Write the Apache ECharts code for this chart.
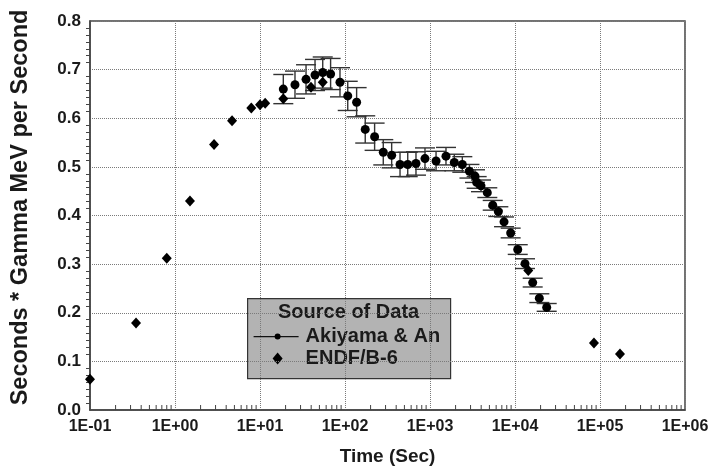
<!DOCTYPE html>
<html>
<head>
<meta charset="utf-8">
<script src="https://cdn.jsdelivr.net/npm/echarts@6/dist/echarts.min.js"></script>
<style>
  html, body { margin: 0; padding: 0; background: #fff; }
  #chart { width: 712px; height: 471px; }
</style>
</head>
<body>
<div id="chart"></div>
<script>
// Akiyama & An measurements: time (s), value, one-sigma uncertainty
const akiyamaTime = [18.8, 25.8, 34.8, 44.4, 54.7, 67.7, 87.3, 107.7, 137, 173, 223, 282, 354, 444, 547, 684, 873, 1178, 1542, 1932, 2400, 2911, 3384, 3540, 3981, 4722, 5470, 6368, 7430, 8892, 10770, 13120, 16150, 19330, 23600];
const akiyamaValue = [0.660, 0.669, 0.680, 0.689, 0.694, 0.691, 0.674, 0.646, 0.633, 0.577, 0.562, 0.530, 0.524, 0.505, 0.505, 0.507, 0.517, 0.512, 0.522, 0.509, 0.505, 0.491, 0.481, 0.468, 0.461, 0.447, 0.421, 0.408, 0.387, 0.364, 0.330, 0.301, 0.262, 0.230, 0.211];
const akiyamaError = [0.030, 0.028, 0.030, 0.032, 0.032, 0.032, 0.030, 0.030, 0.030, 0.028, 0.028, 0.026, 0.026, 0.025, 0.025, 0.024, 0.022, 0.020, 0.018, 0.017, 0.016, 0.014, 0.013, 0.012, 0.012, 0.010, 0.010, 0.010, 0.010, 0.010, 0.010, 0.010, 0.009, 0.009, 0.008];

// ENDF/B-6 evaluation
const endfTime = [0.1, 0.348, 0.80, 1.5, 2.88, 4.69, 7.9, 10, 11.5, 18.8, 39.8, 54.7, 14330, 84900, 171800];
const endfValue = [0.063, 0.179, 0.312, 0.430, 0.546, 0.595, 0.621, 0.628, 0.631, 0.640, 0.664, 0.674, 0.287, 0.138, 0.115];

// Axis ticks
const yTicks = [0, 0.1, 0.2, 0.3, 0.4, 0.5, 0.6, 0.7, 0.8];
const decadeExponents = [-1, 0, 1, 2, 3, 4, 5, 6];
const minorMultipliers = [2, 3, 4, 5, 6, 7, 8, 9];

const minorTicks = [];
decadeExponents.slice(0, -1).forEach(function (e) {
  minorMultipliers.forEach(function (m) { minorTicks.push([m * Math.pow(10, e)]); });
});

const errorData = akiyamaTime.map(function (t, i) {
  return [t, akiyamaValue[i] - akiyamaError[i], akiyamaValue[i] + akiyamaError[i]];
});
const akiyamaData = akiyamaTime.map(function (t, i) { return [t, akiyamaValue[i]]; });
const endfData = endfTime.map(function (t, i) { return [t, endfValue[i]]; });

const FONT = '"Liberation Sans", Arial, sans-serif';
const INK = '#1a1a1a';

function expLabel(v) {
  const e = Math.round(Math.log10(v));
  return '1E' + (e < 0 ? '-' : '+') + String(Math.abs(e)).padStart(2, '0');
}

const chart = echarts.init(document.getElementById('chart'));

chart.setOption({
  animation: false,
  backgroundColor: '#fff',
  grid: { left: 90, right: 27, top: 21, bottom: 59, show: true, borderColor: '#444', borderWidth: 1.5, backgroundColor: '#fff' },
  xAxis: {
    type: 'log',
    logBase: 10,
    min: Math.pow(10, decadeExponents[0]),
    max: Math.pow(10, decadeExponents[decadeExponents.length - 1]),
    interval: 1,
    name: 'Time (Sec)',
    nameLocation: 'middle',
    nameGap: 37,
    nameTextStyle: { fontFamily: FONT, fontWeight: 'bold', fontSize: 19, color: INK },
    axisLine: { lineStyle: { color: '#444', width: 1.5 } },
    axisTick: { show: false },
    axisLabel: { formatter: expLabel, fontFamily: FONT, fontWeight: 'bold', fontSize: 16, color: INK, margin: 9 },
    splitLine: { show: true, lineStyle: { color: '#7a7a7a', type: [1, 1], width: 1 } }
  },
  yAxis: {
    type: 'value',
    min: yTicks[0],
    max: yTicks[yTicks.length - 1],
    interval: 0.1,
    name: 'Seconds * Gamma MeV per Second',
    nameLocation: 'middle',
    nameGap: 57,
    nameTextStyle: { fontFamily: FONT, fontWeight: 'bold', fontSize: 23.5, color: INK, padding: [0, 0, 0, 16] },
    axisLine: { show: true, lineStyle: { color: '#444', width: 1.5 } },
    axisTick: { show: false },
    minorTick: { show: true, splitNumber: 7, length: 4, lineStyle: { color: '#444', width: 1 } },
    axisLabel: { formatter: function (v) { return v.toFixed(1); }, fontFamily: FONT, fontWeight: 'bold', fontSize: 17, color: INK, margin: 9 },
    splitLine: { show: true, lineStyle: { color: '#7a7a7a', type: [1, 1], width: 1 } }
  },
  series: [
    {
      // log-spaced minor ticks along the time axis
      type: 'custom',
      silent: true,
      data: minorTicks,
      encode: { x: 0 },
      renderItem: function (params, api) {
        const p = api.coord([api.value(0), 0]);
        return { type: 'line', shape: { x1: p[0], y1: p[1], x2: p[0], y2: p[1] - 5 }, style: { stroke: '#444', lineWidth: 1 } };
      },
      z: 1
    },
    {
      // error bars of the measurements
      type: 'custom',
      silent: true,
      data: errorData,
      encode: { x: 0, y: [1, 2] },
      renderItem: function (params, api) {
        const lo = api.coord([api.value(0), api.value(1)]);
        const hi = api.coord([api.value(0), api.value(2)]);
        const w = 10;
        const st = { stroke: '#333', lineWidth: 1.4 };
        return {
          type: 'group',
          children: [
            { type: 'line', shape: { x1: lo[0], y1: lo[1], x2: hi[0], y2: hi[1] }, style: st },
            { type: 'line', shape: { x1: lo[0] - w, y1: lo[1], x2: lo[0] + w, y2: lo[1] }, style: st },
            { type: 'line', shape: { x1: hi[0] - w, y1: hi[1], x2: hi[0] + w, y2: hi[1] }, style: st }
          ]
        };
      },
      z: 2
    },
    {
      name: 'ENDF/B-6',
      type: 'scatter',
      data: endfData,
      symbol: 'diamond',
      symbolSize: [10, 11],
      itemStyle: { color: '#000', opacity: 1 },
      z: 3
    },
    {
      name: 'Akiyama & An',
      type: 'scatter',
      data: akiyamaData,
      symbol: 'circle',
      symbolSize: 9,
      itemStyle: { color: '#000', opacity: 1 },
      z: 4
    }
  ],
  graphic: [
    {
      type: 'group',
      left: 247,
      top: 298,
      z: 100,
      children: [
        { type: 'rect', shape: { x: 0, y: 0, width: 203, height: 80 }, style: { fill: '#b3b3b3', stroke: '#333', lineWidth: 1.2 } },
        { type: 'text', style: { x: 101, y: 14, text: 'Source of Data', align: 'center', verticalAlign: 'middle', font: 'bold 20px ' + FONT, fill: INK } },
        { type: 'line', shape: { x1: 6, y1: 38, x2: 51, y2: 38 }, style: { stroke: '#111', lineWidth: 1.2 } },
        { type: 'circle', shape: { cx: 30, cy: 38, r: 3 }, style: { fill: '#000' } },
        { type: 'text', style: { x: 58, y: 38, text: 'Akiyama & An', align: 'left', verticalAlign: 'middle', font: 'bold 20px ' + FONT, fill: INK } },
        { type: 'polygon', shape: { points: [[30, 54], [35, 60], [30, 66], [25, 60]] }, style: { fill: '#000' } },
        { type: 'text', style: { x: 58, y: 60, text: 'ENDF/B-6', align: 'left', verticalAlign: 'middle', font: 'bold 20px ' + FONT, fill: INK } }
      ]
    }
  ]
});
</script>
</body>
</html>
